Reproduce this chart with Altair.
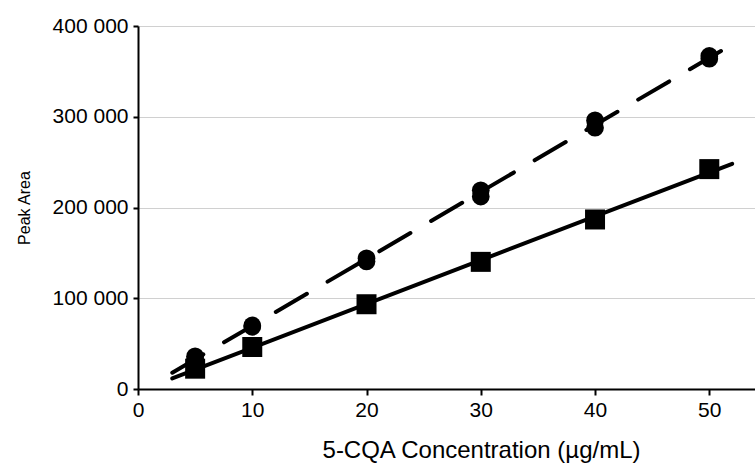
import altair as alt
import pandas as pd

# Concentrations (µg/mL)
conc = [5, 10, 20, 30, 40, 50]
# Square series (solid trend line)
area_square = [22400, 46300, 93400, 140100, 186800, 242300]
# Circle series (dashed trend line), two replicate injections
area_circle_a = [36000, 70000, 144000, 219000, 296000, 367000]
area_circle_b = [33000, 68500, 140500, 212000, 288000, 364000]

x_ticks = [0, 10, 20, 30, 40, 50]
y_ticks = [0, 100000, 200000, 300000, 400000]

rows = []
for c, a in zip(conc, area_square):
    rows.append({"conc": c, "area": a, "series": "square"})
for c, a in zip(conc, area_circle_a):
    rows.append({"conc": c, "area": a, "series": "circle"})
for c, a in zip(conc, area_circle_b):
    rows.append({"conc": c, "area": a, "series": "circle"})
df = pd.DataFrame(rows)

FONT = "Liberation Sans"

x_enc = alt.X(
    "conc:Q",
    scale=alt.Scale(domain=[0, 54], nice=False, zero=False),
    axis=alt.Axis(
        values=x_ticks,
        title="5-CQA Concentration (µg/mL)",
        grid=False,
        domainColor="black",
        domainWidth=2,
        tickColor="black",
        tickWidth=2,
        tickSize=6,
        labelFont=FONT,
        labelFontSize=21,
        labelColor="black",
        labelPadding=4,
        labelFlush=False,
        titleFont=FONT,
        titleFontSize=24,
        titleFontWeight="normal",
        titleColor="black",
        titleX=343,
        titleY=68,
        titleBaseline="alphabetic",
    ),
)

y_enc = alt.Y(
    "area:Q",
    scale=alt.Scale(domain=[0, 400000], nice=False),
    axis=alt.Axis(
        values=y_ticks,
        title="Peak Area",
        grid=True,
        gridColor="#d0d0d0",
        gridWidth=1,
        domainColor="black",
        domainWidth=2,
        tickColor="black",
        tickWidth=2,
        tickSize=5,
        labelFont=FONT,
        labelFontSize=21,
        labelColor="black",
        labelPadding=5,
        labelExpr="replace(format(datum.value, ','), /,/g, ' ')",
        titleFont=FONT,
        titleFontSize=16,
        titleFontWeight="normal",
        titleColor="black",
        titleX=-106,
        titleY=181.5,
        titleAngle=-90,
        titleBaseline="bottom",
    ),
)

base = alt.Chart(df)

line_square = (
    base.transform_filter(alt.datum.series == "square")
    .transform_regression("conc", "area", extent=[3, 52])
    .mark_line(color="black", strokeWidth=4, strokeCap="round")
    .encode(x=x_enc, y=y_enc)
)

line_circle = (
    base.transform_filter(alt.datum.series == "circle")
    .transform_regression("conc", "area", extent=[3, 52])
    .mark_line(color="black", strokeWidth=4, strokeCap="round", strokeDash=[36, 24])
    .encode(x=x_enc, y=y_enc)
)

pts_square = (
    base.transform_filter(alt.datum.series == "square")
    .mark_point(shape="square", filled=True, color="black", size=400, opacity=1)
    .encode(x=x_enc, y=y_enc)
)

pts_circle = (
    base.transform_filter(alt.datum.series == "circle")
    .mark_point(shape="circle", filled=True, color="black", size=314, opacity=1)
    .encode(x=x_enc, y=y_enc)
)

chart = (
    alt.layer(line_square, line_circle, pts_square, pts_circle)
    .properties(
        width=617,
        height=363,
        autosize=alt.AutoSizeParams(type="none"),
        padding={"left": 138, "top": 26, "right": 0, "bottom": 76},
        background="white",
    )
    .configure_view(stroke=None)
)

chart.save("out.html", embed_options={"renderer": "svg", "actions": False})
